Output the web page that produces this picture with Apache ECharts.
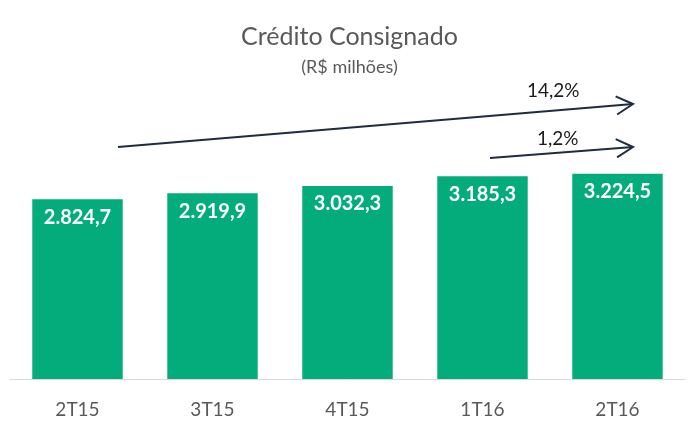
<!DOCTYPE html>
<html><head><meta charset="utf-8">
<script src="https://cdn.jsdelivr.net/npm/echarts@6/dist/echarts.min.js"></script>
<style>html,body{margin:0;padding:0;background:#fff}#c{width:699px;height:429px}</style>
</head><body><div id="c"></div>
<script>
const categories = ['2T15','3T15','4T15','1T16','2T16'];
const values = [2824.7, 2919.9, 3032.3, 3185.3, 3224.5];
const growthLabels = ['14,2%', '1,2%'];

function fmt(v){
  const parts = v.toFixed(1).split('.');
  const intPart = parts[0].replace(/\B(?=(\d{3})+(?!\d))/g, '.');
  return intPart + ',' + parts[1];
}
const FONT = 'Lato';
const arrowColor = '#1f2b3e';
const chart = echarts.init(document.getElementById('c'));
function arrow(x1,y1,x2,y2){
  const ang = Math.atan2(y2-y1, x2-x1);
  const L = 19, a = 0.5;
  return [
    {type:'line', shape:{x1,y1,x2,y2}, style:{stroke:arrowColor, lineWidth:2}},
    {type:'polyline', shape:{points:[[x2 - L*Math.cos(ang-a), y2 - L*Math.sin(ang-a)],[x2,y2],[x2 - L*Math.cos(ang+a), y2 - L*Math.sin(ang+a)]]}, style:{stroke:arrowColor, lineWidth:2, fill:null}}
  ];
}
chart.setOption({
  animation:false,
  title:{
    text:'Crédito Consignado', subtext:'(R$ milhões)', left:'center', top:19, itemGap:9,
    textStyle:{fontFamily:FONT, fontSize:25, fontWeight:'normal', color:'#595959'},
    subtextStyle:{fontFamily:FONT, fontSize:18, color:'#595959'}
  },
  grid:{left:10, right:14, top:0, bottom:50},
  xAxis:{
    type:'category', data:categories,
    axisLine:{lineStyle:{color:'#d9d9d9', width:1}},
    axisTick:{show:false},
    axisLabel:{fontFamily:FONT, fontSize:19, color:'#595959', margin:21}
  },
  yAxis:{type:'value', min:0, max:5955, show:false, splitLine:{show:false}},
  series:[{
    type:'bar', data:values, barCategoryGap:'33%',
    itemStyle:{color:'#05AC7B'},
    label:{show:true, position:'insideTop', distance:8, color:'#fff', fontFamily:FONT, fontWeight:'bold', fontSize:20,
      formatter:p=>fmt(p.value)}
  }],
  graphic:[
    ...arrow(118,147,633,104),
    ...arrow(490,158,633,147),
    {type:'text', left:527, top:81, style:{text:growthLabels[0], fontFamily:FONT, fontSize:19, fill:'#1a1a1a'}},
    {type:'text', left:537, top:129, style:{text:growthLabels[1], fontFamily:FONT, fontSize:19, fill:'#1a1a1a'}}
  ]
});
</script></body></html>
